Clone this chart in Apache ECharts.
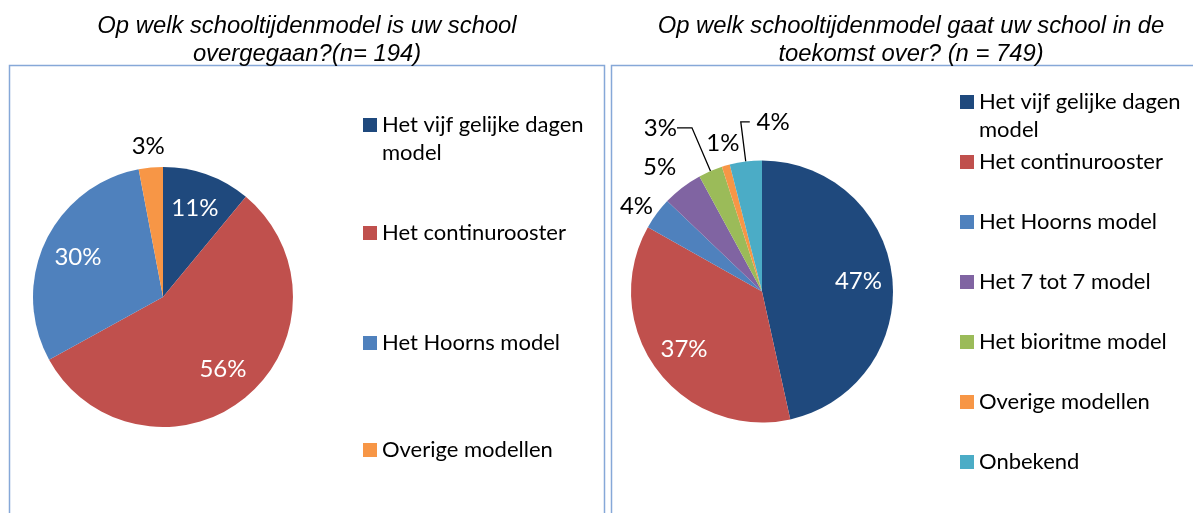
<!DOCTYPE html>
<html><head><meta charset="utf-8">
<script src="https://cdn.jsdelivr.net/npm/echarts@6/dist/echarts.min.js"></script>
<style>html,body{margin:0;padding:0;background:#fff}#c{width:1193px;height:513px}</style>
</head><body><div id="c"></div>
<script>
// ---- data ----
const titleLeft = 'Op welk schooltijdenmodel is uw school\novergegaan?(n= 194)';
const titleRight = 'Op welk schooltijdenmodel gaat uw school in de\ntoekomst over? (n = 749)';
const categoriesLeft = ['Het vijf gelijke dagen model', 'Het continurooster', 'Het Hoorns model', 'Overige modellen'];
const valuesLeft = [11, 56, 30, 3];
const categoriesRight = ['Het vijf gelijke dagen model', 'Het continurooster', 'Het Hoorns model', 'Het 7 tot 7 model', 'Het bioritme model', 'Overige modellen', 'Onbekend'];
const valuesRight = [47, 37, 4, 5, 3, 1, 4];

// ---- styles ----
const colors = {
  'Het vijf gelijke dagen model': '#1F497D',
  'Het continurooster': '#C0504D',
  'Het Hoorns model': '#4F81BD',
  'Het 7 tot 7 model': '#8064A2',
  'Het bioritme model': '#9BBB59',
  'Overige modellen': '#F79646',
  'Onbekend': '#4BACC6'
};
const FONT = 'Lato';
const LEGEND_FS = 22;
const LABEL_FS = 24;

// label settings for outside labels (by index); inside ones are drawn by a ring overlay
const outsideLeft = {3: {len: 21, len2: 0, dist: -16, line: false}};
const outsideRight = {
  2: {len: 12, len2: 0, dist: -6, line: false},
  3: {len: 25, len2: 0, dist: -9, line: false},
  4: {len: 47, len2: 15, dist: 0, line: true},
  5: {len: 23, len2: 0, dist: -20, line: false},
  6: {len: 40, len2: -9, dist: -40, line: true}
};

function mainData(cats, vals, outside) {
  return cats.map((c, i) => {
    const o = outside[i];
    return {
      name: c, value: vals[i],
      itemStyle: {color: colors[c]},
      label: o ? {show: true, position: 'outside', distanceToLabelLine: o.dist} : {show: false},
      labelLine: o ? {show: o.line, length: o.len, length2: o.len2} : {show: false}
    };
  });
}
function ringData(cats, vals, outside) {
  return cats.map((c, i) => ({
    name: c, value: vals[i],
    label: {show: !outside[i]}
  }));
}
const pctFmt = p => p.value + '%';

function legendsFor(cats, left, tops, lh) {
  return cats.map((c, i) => ({
    data: [c], left: left, top: tops[i], padding: 0, orient: 'vertical',
    icon: 'rect', itemWidth: 14, itemHeight: 14, selectedMode: false,
    // leading blank line keeps the first text line level with the marker
    formatter: n => n.indexOf('dagen model') >= 0 ? '\n' + n.replace('dagen model', 'dagen\nmodel') : n,
    textStyle: {fontFamily: FONT, fontSize: LEGEND_FS, color: '#000', lineHeight: lh}
  }));
}

const titleStyle = {fontFamily: 'Liberation Sans', fontStyle: 'italic', fontWeight: 'normal', fontSize: 23.8, lineHeight: 28, color: '#000'};

const chart = echarts.init(document.getElementById('c'), null, {renderer: 'canvas'});
chart.setOption({
  animation: false,
  backgroundColor: '#fff',
  title: [
    {text: titleLeft, left: 307, top: 12, textAlign: 'center', padding: 0, textStyle: titleStyle},
    {text: titleRight, left: 911, top: 12, textAlign: 'center', padding: 0, textStyle: titleStyle}
  ],
  graphic: [
    {type: 'rect', shape: {x: 9.5, y: 65.5, width: 595, height: 480}, style: {fill: null, stroke: '#86A8D8', lineWidth: 1.5}, z: -1},
    {type: 'rect', shape: {x: 611.5, y: 65.5, width: 600, height: 480}, style: {fill: null, stroke: '#86A8D8', lineWidth: 1.5}, z: -1}
  ],
  legend: [].concat(
    legendsFor(categoriesLeft, 363, [83, 219, 329, 436], 28),
    legendsFor(categoriesRight, 960, [60, 148, 208, 268, 328, 388, 448], 28)
  ),
  series: [
    {
      type: 'pie', center: [163, 297], radius: 130, startAngle: 90, clockwise: true,
      avoidLabelOverlap: false, silent: true,
      label: {formatter: pctFmt, fontFamily: FONT, fontSize: LABEL_FS, color: '#000'},
      labelLine: {minTurnAngle: 0, maxSurfaceAngle: 180, lineStyle: {color: '#000', width: 1.3}},
      data: mainData(categoriesLeft, valuesLeft, outsideLeft)
    },
    {
      type: 'pie', center: [762, 291.5], radius: 131, startAngle: 90, clockwise: true,
      avoidLabelOverlap: false, silent: true,
      label: {formatter: pctFmt, fontFamily: FONT, fontSize: LABEL_FS, color: '#000'},
      labelLine: {minTurnAngle: 0, maxSurfaceAngle: 180, lineStyle: {color: '#000', width: 1.3}},
      data: mainData(categoriesRight, valuesRight, outsideRight)
    },
    {
      type: 'pie', center: [163, 297], radius: [52, 130], startAngle: 90, clockwise: true,
      avoidLabelOverlap: false, silent: true, legendHoverLink: false,
      itemStyle: {color: 'rgba(0,0,0,0)'},
      label: {position: 'inside', formatter: pctFmt, fontFamily: FONT, fontSize: LABEL_FS, color: '#fff'},
      labelLine: {show: false},
      data: ringData(categoriesLeft, valuesLeft, outsideLeft)
    },
    {
      type: 'pie', center: [762, 291.5], radius: [57, 131], startAngle: 90, clockwise: true,
      avoidLabelOverlap: false, silent: true, legendHoverLink: false,
      itemStyle: {color: 'rgba(0,0,0,0)'},
      label: {position: 'inside', formatter: pctFmt, fontFamily: FONT, fontSize: LABEL_FS, color: '#fff'},
      labelLine: {show: false},
      data: ringData(categoriesRight, valuesRight, outsideRight)
    }
  ]
});
</script>
</body></html>
